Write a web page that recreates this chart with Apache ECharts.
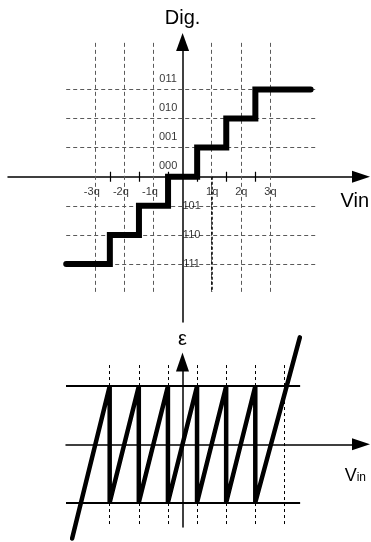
<!DOCTYPE html>
<html><head><meta charset="utf-8">
<script src="https://cdn.jsdelivr.net/npm/echarts@6/dist/echarts.min.js"></script>
<style>html,body{margin:0;padding:0;background:#fff}#c{width:371px;height:542px}</style>
</head><body><div id="c"></div>
<script>
// ---- top: quantizer transfer characteristic (x in units of q) ----
const stepX = [-4, -2.5, -2.5, -1.5, -1.5, -0.5, -0.5, 0.5, 0.5, 1.5, 1.5, 2.5, 2.5, 4.4];
const stepY = [-3, -3, -2, -2, -1, -1, 0, 0, 1, 1, 2, 2, 3, 3];
const gridXs = [-3, -2, -1, 1, 2, 3];
const gridYs = [3, 2, 1, -1, -2, -3];
const tickXs = [-2.5, -1.5, -0.5, 0.5, 1.5, 2.5];
const xTickValues = [-3, -2, -1, 1, 2, 3];
const xTickLabels = ['-3q', '-2q', '-1q', '1q', '2q', '3q'];
const codeLevels = [3, 2, 1, 0, -1, -2, -3];
const codes = ['011', '010', '001', '000', '101', '110', '111'];
// ---- bottom: quantization error ----
const errX = [-3.79, -2.5, -2.5, -1.5, -1.5, -0.5, -0.5, 0.5, 0.5, 1.5, 1.5, 2.5, 2.5, 4.03];
const errY = [-0.81, 0.5, -0.5, 0.5, -0.5, 0.5, -0.5, 0.5, -0.5, 0.5, -0.5, 0.5, -0.5, 0.92];
const errLevels = [0.5, -0.5];
const errDashXs = [-2.5, -1.5, -0.5, 0.5, 1.5, 2.5, 3.5];

const FONT = '"Liberation Sans", Arial, sans-serif';
const seg = (a, b) => ({coords: [a, b]});
const zip = (xs, ys) => xs.map((x, i) => [x, ys[i]]);

const chart = echarts.init(document.getElementById('c'));
const topDashed = []
  .concat(gridXs.map(x => seg([x, 4.6], [x, -3.96])))
  .concat(gridYs.map(y => seg([-4, y], [4.63, y])));
const hidden = {symbolSize: 1, itemStyle: {color: 'rgba(0,0,0,0)'}, silent: true};

const option = {
  animation: false,
  backgroundColor: '#fff',
  textStyle: {fontFamily: FONT},
  grid: [
    {left: 8, right: 10, top: 42, bottom: 220, containLabel: false, outerBoundsMode: 'none'},
    {left: 66, right: 10, top: 362, bottom: 15, containLabel: false, outerBoundsMode: 'none'}
  ],
  xAxis: [
    {gridIndex: 0, type: 'value', min: -6, max: 6.13,
     splitLine: {show: false}, axisTick: {show: false}, axisLabel: {show: false},
     axisLine: {onZero: true, symbol: ['none', 'triangle'], symbolSize: [12, 18],
                lineStyle: {color: '#000', width: 1.5}},
     name: 'Vin', nameLocation: 'end', nameGap: 8,
     nameTextStyle: {fontSize: 20, color: '#000', fontFamily: FONT, align: 'right', verticalAlign: 'top', padding: [15, 0, 0, 0]}},
    {gridIndex: 1, type: 'value', min: -4, max: 6.13,
     splitLine: {show: false}, axisTick: {show: false}, axisLabel: {show: false},
     axisLine: {onZero: true, symbol: ['none', 'triangle'], symbolSize: [12, 18],
                lineStyle: {color: '#000', width: 1.5}},
     name: '{v|V}{s|in}', nameLocation: 'end', nameGap: 5,
     nameTextStyle: {color: '#000', align: 'right', verticalAlign: 'top', padding: [23, 0, 0, 0],
       rich: {v: {fontSize: 18, color: '#000', fontFamily: FONT, padding: [0, 0, 2, 0]},
              s: {fontSize: 12, color: '#000', fontFamily: FONT}}}}
  ],
  yAxis: [
    {gridIndex: 0, type: 'value', min: -4.993, max: 4.629,
     splitLine: {show: false}, axisTick: {show: false}, axisLabel: {show: false},
     axisLine: {onZero: true, symbol: ['none', 'triangle'], symbolSize: [13, 18],
                lineStyle: {color: '#000', width: 1.5}},
     name: 'Dig.', nameLocation: 'end', nameGap: 14,
     nameTextStyle: {fontSize: 20, color: '#000', fontFamily: FONT}},
    {gridIndex: 1, type: 'value', min: -0.711, max: 0.708,
     splitLine: {show: false}, axisTick: {show: false}, axisLabel: {show: false},
     axisLine: {onZero: true, symbol: ['none', 'triangle'], symbolSize: [13, 19],
                lineStyle: {color: '#000', width: 1.5}},
     name: 'ε', nameLocation: 'end', nameGap: 13,
     nameTextStyle: {fontSize: 20, color: '#000', fontFamily: FONT}}
  ],
  series: [
    {type: 'lines', coordinateSystem: 'cartesian2d', xAxisIndex: 0, yAxisIndex: 0, z: 1, silent: true,
     lineStyle: {color: '#5a5a5a', width: 1, type: [4, 3], opacity: 1, curveness: 0},
     data: topDashed},
    {type: 'lines', coordinateSystem: 'cartesian2d', xAxisIndex: 0, yAxisIndex: 0, z: 2, silent: true,
     lineStyle: {color: '#000', width: 1.5, type: [3, 2], opacity: 1, curveness: 0},
     data: [seg([1, 0], [1, -3.96])]},
    {type: 'lines', coordinateSystem: 'cartesian2d', xAxisIndex: 0, yAxisIndex: 0, z: 2, silent: true,
     lineStyle: {color: '#000', width: 1.2, opacity: 1, curveness: 0},
     data: tickXs.map(x => seg([x, -0.17], [x, 0.17]))},
    Object.assign({type: 'scatter', xAxisIndex: 0, yAxisIndex: 0, z: 1,
     label: {show: true, formatter: '{b}', position: 'inside', offset: [-14.5, -10.5], color: '#000', fontSize: 11, fontFamily: FONT},
     data: codeLevels.map((l, i) => ({name: codes[i], value: [0, l]})).filter(d => d.value[1] >= 0)}, hidden),
    Object.assign({type: 'scatter', xAxisIndex: 0, yAxisIndex: 0, z: 1,
     label: {show: true, formatter: '{b}', position: 'inside', offset: [9, 0], color: '#000', fontSize: 11, fontFamily: FONT},
     data: codeLevels.map((l, i) => ({name: codes[i], value: [0, l]})).filter(d => d.value[1] < 0)}, hidden),
    Object.assign({type: 'scatter', xAxisIndex: 0, yAxisIndex: 0, z: 1,
     label: {show: true, formatter: '{b}', position: 'inside', offset: [-3.5, 15.5], color: '#000', fontSize: 11, fontFamily: FONT},
     data: xTickValues.map((x, i) => ({name: xTickLabels[i], value: [x, 0]})).filter(d => d.value[0] < 0)}, hidden),
    Object.assign({type: 'scatter', xAxisIndex: 0, yAxisIndex: 0, z: 1,
     label: {show: true, formatter: '{b}', position: 'inside', offset: [0.5, 15.5], color: '#000', fontSize: 11, fontFamily: FONT},
     data: xTickValues.map((x, i) => ({name: xTickLabels[i], value: [x, 0]})).filter(d => d.value[0] > 0)}, hidden),
    {type: 'line', xAxisIndex: 0, yAxisIndex: 0, z: 5, silent: true, showSymbol: false, symbol: 'none', clip: false,
     lineStyle: {color: '#000', width: 6, cap: 'round', join: 'miter'},
     data: zip(stepX, stepY)},
    // bottom
    {type: 'lines', coordinateSystem: 'cartesian2d', xAxisIndex: 1, yAxisIndex: 1, z: 2, silent: true,
     lineStyle: {color: '#000', width: 2, opacity: 1, curveness: 0},
     data: errLevels.map(y => seg([-4, y], [4.04, y]))},
    {type: 'lines', coordinateSystem: 'cartesian2d', xAxisIndex: 1, yAxisIndex: 1, z: 1, silent: true,
     lineStyle: {color: '#000', width: 1, type: [3, 3], opacity: 1, curveness: 0},
     data: errDashXs.map(x => seg([x, 0.682], [x, -0.711]))},
    {type: 'line', xAxisIndex: 1, yAxisIndex: 1, z: 5, silent: true, showSymbol: false, symbol: 'none', clip: false,
     lineStyle: {color: '#000', width: 4.5, cap: 'round', join: 'bevel'},
     data: zip(errX, errY)}
  ]
};
chart.setOption(option);
</script>
</body></html>
